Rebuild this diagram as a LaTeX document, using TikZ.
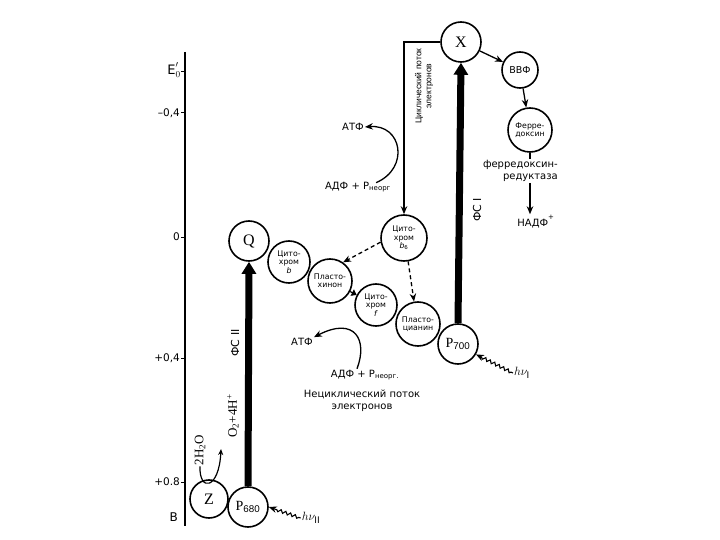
\documentclass[tikz,border=0pt]{standalone}
\usepackage{fontspec}
\setmainfont{DejaVu Sans}
\newfontfamily\serf{Liberation Serif}
\newfontfamily\lib{Liberation Sans}
\usetikzlibrary{arrows.meta,decorations.pathmorphing}
\begin{document}
\begin{tikzpicture}[x=1pt,y=-1pt,
  circ/.style={draw,circle,line width=1.6pt,inner sep=0pt,align=center,
    font=\fontsize{7.8}{8.4}\selectfont},
  bigl/.style={font=\serf\fontsize{16}{16}\selectfont},
  lbl/.style={font=\fontsize{10}{12}\selectfont,inner sep=1pt},
  axl/.style={font=\fontsize{10.5}{11}\selectfont,inner sep=1pt,anchor=east},
  conn/.style={line width=1.3pt,-{Stealth[length=8pt,width=6.5pt]}},
  dconn/.style={line width=1.3pt,dash pattern=on 4pt off 3pt,-{Stealth[length=8pt,width=6.5pt]}},
  bigarrow/.style={line width=7pt,-{Triangle[length=12pt,width=14pt]}},
  photon/.style={line width=1.1pt,decorate,decoration={snake,amplitude=1.5pt,segment length=5pt,pre length=2pt,post length=6pt},-{Stealth[length=8pt,width=6.5pt]}},
]
\useasboundingbox (0,0) rectangle (720,540);

% axis
\draw[line width=1.8pt] (185,52) -- (185,526);
\foreach \yy in {72,113,237,358,482} \draw[line width=1pt] (181,\yy) -- (185,\yy);
\node[axl,font=\fontsize{13}{13}\selectfont] (e0) at (182,70) {$\mathrm{E}'_{0}$};
\node[axl] (am04) at (181,113) {–0,4};
\node[axl] (a0) at (181,237) {0};
\node[axl] (ap04) at (181,358) {+0,4};
\node[axl] (ap08) at (181,482) {+0.8};
\node[axl,font=\fontsize{12}{12}\selectfont] (av) at (179,517) {В};

% circles
\node[circ,minimum size=40pt,bigl] (X) at (461,42) {X};
\node[circ,minimum size=36pt,font=\fontsize{9.5}{10}\selectfont] (vvf) at (520,70) {ВВФ};
\node[circ,minimum size=44pt] (fd) at (530,130) {Ферре-\\доксин};
\node[circ,minimum size=40pt,bigl] (Q) at (249,241) {Q};
\node[circ,minimum size=42pt] (cytb) at (289,262) {Цито-\\хром\\\textit{b}};
\node[circ,minimum size=44pt] (pq) at (330,281) {Пласто-\\хинон};
\node[circ,minimum size=42pt] (cytf) at (376,305) {Цито-\\хром\\\textit{f}};
\node[circ,minimum size=46pt] (cytb6) at (404,238) {Цито-\\хром\\\textit{b}\textsubscript{6}};
\node[circ,minimum size=44pt] (pc) at (418,324) {Пласто-\\цианин};
\node[circ,minimum size=40pt,font=\serf\fontsize{14}{14}\selectfont] (P700) at (458,344) {P\textsubscript{\lib 700}};
\node[circ,minimum size=38pt,bigl] (Z) at (209,499) {Z};
\node[circ,minimum size=40pt,font=\serf\fontsize{14}{14}\selectfont] (P680) at (248,507) {P\textsubscript{\lib 680}};

% right chain
\node[lbl,align=right,anchor=east] (fnr) at (559,171) {ферредоксин-\\редуктаза};
\node[lbl] (nadf) at (536,222) {НАДФ\textsuperscript{+}};
\draw[conn] (X) -- (vvf);
\draw[conn] (vvf) -- (fd);
\draw[line width=1.3pt] (fd.south) -- (fd.south |- fnr.north);
\draw[conn] (fd.south |- fnr.south) -- (fd.south |- nadf.north);

% photosystems
\draw[bigarrow] (P680.north) -- (Q.south);
\draw[bigarrow] (P700.north) -- (X.south);
\node[lbl,rotate=90,font=\fontsize{11}{11}\selectfont] (fs2) at (235,343) {ФС II};
\node[lbl,rotate=90,font=\fontsize{11}{11}\selectfont] (fs1) at (477,210) {ФС I};

% cyclic flow
\draw[conn] (X.west) -| (cytb6.north);
\node[lbl,rotate=90,align=center,font=\lib\fontsize{8.5}{10}\selectfont] (cyc) at (424,86) {Циклический поток\\электронов};
\node[lbl] (atf1) at (353,127) {АТФ};
\node[lbl] (adf1) at (358,187) {АДФ + P\textsubscript{неорг}};
\draw[conn] ([xshift=-16pt,yshift=-2pt]adf1.north east) .. controls (410,168) and (402,124) .. (atf1.east);

% electron transport chain
\draw[dconn] (cytb6.190) -- (pq.55);
\draw[dconn] (cytb6.280) -- (pc.100);
\draw[line width=1.2pt,-{Triangle[length=5pt,width=7pt]}] (pq) -- (cytf);

% non-cyclic
\node[lbl] (atf2) at (302,342) {АТФ};
\node[lbl] (adf2) at (365,375) {АДФ + P\textsubscript{неорг.}};
\node[lbl,align=center] (nc) at (362,401) {Нециклический поток\\электронов};
\draw[conn] ([xshift=-8pt]adf2.north) .. controls (368,340) and (355,316) .. (atf2.north east);

% light
\node[font=\fontsize{13}{13}\selectfont,inner sep=1pt] (hv1) at (522,373) {$h\nu_{\mathrm{I}}$};
\node[font=\fontsize{13}{13}\selectfont,inner sep=1pt] (hv2) at (311,518) {$h\nu_{\mathrm{II}}$};
\draw[photon] (hv1.west) -- (P700.-30);
\draw[photon] (hv2.west) -- (P680.east);

% water splitting
\node[rotate=90,inner sep=1pt,font=\serf\fontsize{13}{13}\selectfont] (h2o) at (200,450) {2H\textsubscript{2}O};
\node[rotate=90,inner sep=1pt,font=\serf\fontsize{13}{13}\selectfont] (o2) at (233,416) {O\textsubscript{2}+4H\textsuperscript{+}};
\draw[line width=1.2pt,-{Stealth[length=6pt,width=5pt]}] (h2o.west) .. controls (199,492) and (219,490) .. (221,449);
\end{tikzpicture}
\end{document}
